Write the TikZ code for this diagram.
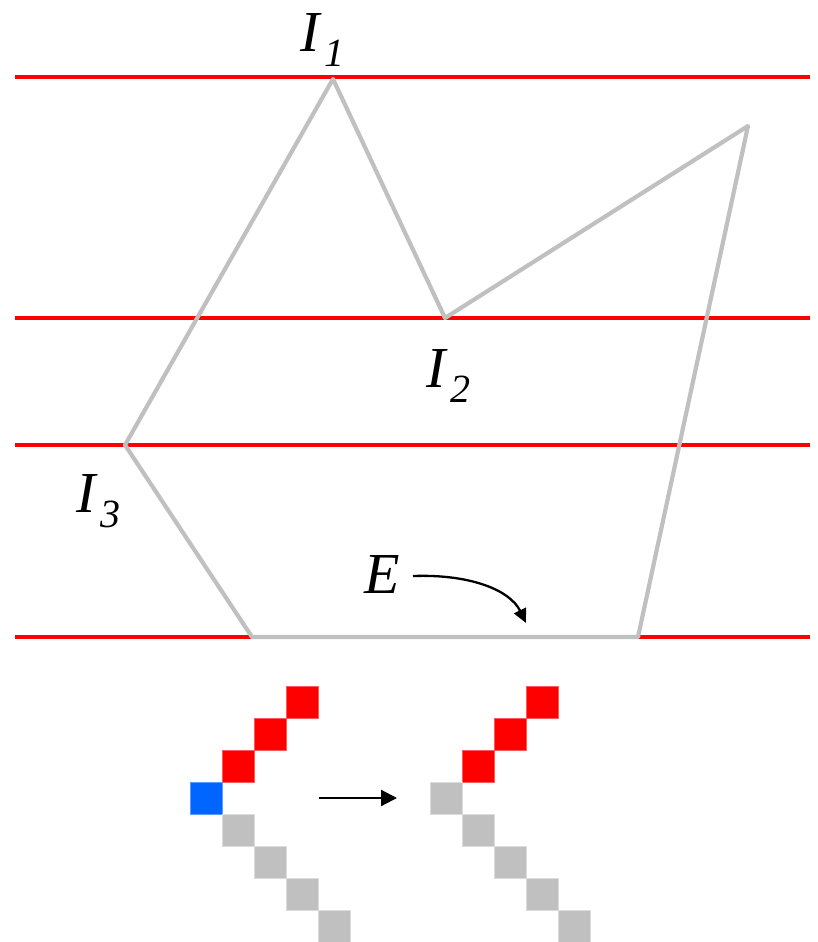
\documentclass[tikz,border=0pt]{standalone}
\usepackage{fontspec}
\setmainfont{Liberation Serif}
\usetikzlibrary{arrows.meta}
\definecolor{lgray}{HTML}{C0C0C0}
\definecolor{pblue}{HTML}{0066FF}
\newcommand{\mylab}[2]{{\fontsize{58}{58}\selectfont\itshape I}\kern5pt\raisebox{-15pt}{\fontsize{40}{40}\selectfont\itshape #2}}
\begin{document}
\begin{tikzpicture}[x=1pt,y=-1pt,
  redline/.style={draw=red,line width=4.5pt},
  polyline/.style={draw=lgray,line width=4.2pt,line join=round},
  lab/.style={anchor=base west,inner sep=0pt,outer sep=0pt},
  pxred/.style={fill=red,draw=red!65,line width=0.6pt},
  pxgray/.style={fill=lgray,draw=lgray!55,line width=0.6pt},
  pxblue/.style={fill=pblue,draw=pblue!65,line width=0.6pt},
  arr/.style={line width=2.2pt,-{Triangle[length=16pt,width=16pt]}}]
\useasboundingbox (0,0) rectangle (817,942);
% red lines
\coordinate (r1a) at (15,77);  \coordinate (r1b) at (810,77);
\coordinate (r2a) at (15,318); \coordinate (r2b) at (810,318);
\coordinate (r3a) at (15,445); \coordinate (r3b) at (810,445);
\coordinate (r4a) at (15,637); \coordinate (r4b) at (810,637);
\draw[redline] (r1a) -- (r1b);
\draw[redline] (r2a) -- (r2b);
\draw[redline] (r3a) -- (r3b);
\draw[redline] (r4a) -- (r4b);
% polygon
\coordinate (p1) at (333,79);
\coordinate (p2) at (445,318);
\coordinate (p3) at (748,126);
\coordinate (p4) at (638,637);
\coordinate (p5) at (252,637);
\coordinate (p6) at (125,445);
\draw[polyline] (p1) -- (p2) -- (p3) -- (p4) -- (p5) -- (p6) -- cycle;
% labels
\node[lab] (I1) at (300,52) {\mylab{I}{1}};
\node[lab] (I2) at (426,387) {\mylab{I}{2}};
\node[lab] (I3) at (76,512) {\mylab{I}{3}};
\node[lab] (E) at (364,593) {\fontsize{58}{58}\selectfont\itshape E};
\coordinate (Es) at (413,576);
\coordinate (Ee) at (526,623);
\draw[line width=2.3pt,-{Triangle[length=14pt,width=13pt]}] (Es) .. controls (470,574) and (510,590) .. (Ee);
% left pixel group
\foreach \x/\y/\s [count=\i] in {286/686/pxred,254/718/pxred,222/750/pxred,190/782/pxblue,222/814/pxgray,254/846/pxgray,286/878/pxgray,318/910/pxgray}
  \path[\s] (\x,\y) rectangle ++(32,32);
% right pixel group
\foreach \x/\y/\s [count=\i] in {526/686/pxred,494/718/pxred,462/750/pxred,430/782/pxgray,462/814/pxgray,494/846/pxgray,526/878/pxgray,558/910/pxgray}
  \path[\s] (\x,\y) rectangle ++(32,32);
% arrow
\coordinate (As) at (319,798);
\coordinate (Ae) at (397,798);
\draw[arr] (As) -- (Ae);
\end{tikzpicture}
\end{document}
